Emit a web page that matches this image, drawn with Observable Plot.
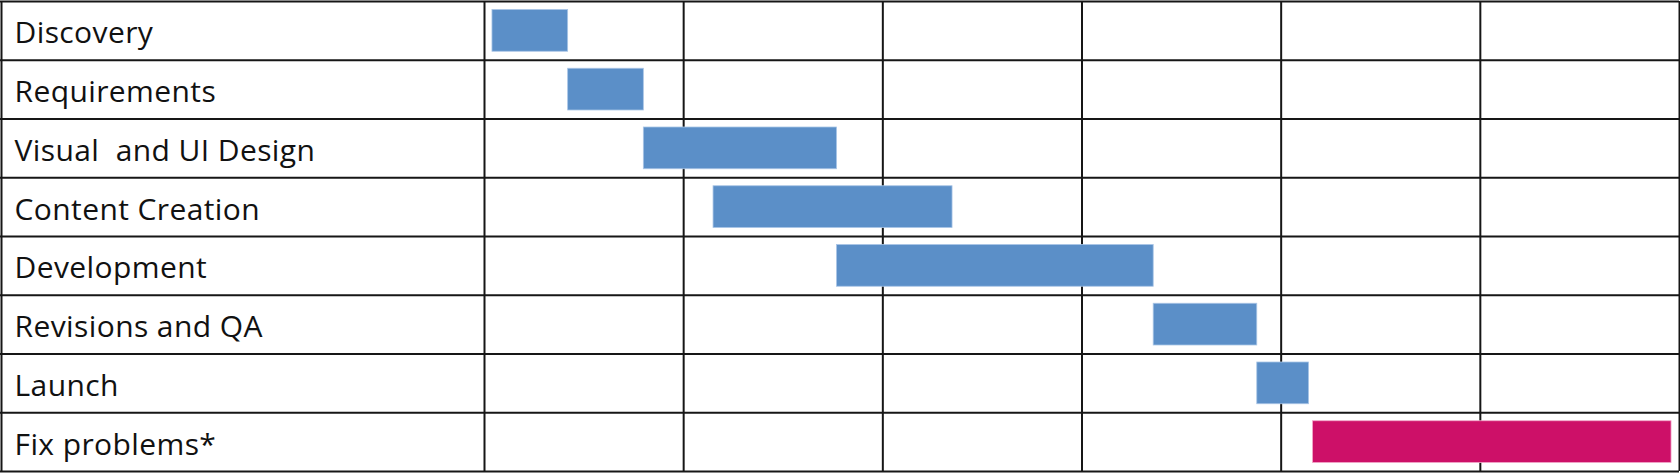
<!DOCTYPE html>
<html>
<head>
<meta charset="utf-8">
<script src="https://cdn.jsdelivr.net/npm/d3@7"></script>
<script src="https://cdn.jsdelivr.net/npm/@observablehq/plot@0.6"></script>
<style>
  html, body { margin: 0; padding: 0; background: #fff; }
  #chart svg text { white-space: pre; letter-spacing: 0.4px; }
</style>
</head>
<body>
<div id="chart"></div>
<script>
// Task names (top to bottom)
const tasks = [
  "Discovery",
  "Requirements",
  "Visual  and UI Design",
  "Content Creation",
  "Development",
  "Revisions and QA",
  "Launch",
  "Fix problems*"
];
// Start and end of each task, in timeline columns (periods)
const starts = [0.04, 0.42, 0.80, 1.15, 1.77, 3.36, 3.88, 4.16];
const ends   = [0.42, 0.80, 1.77, 2.35, 3.36, 3.88, 4.14, 5.96];
// Task kind: planned work vs. post-launch fixes
const kinds  = ["plan", "plan", "plan", "plan", "plan", "plan", "plan", "fix"];
// Timeline column boundaries
const periodTicks = [0, 1, 2, 3, 4, 5, 6];

const rows = tasks.map((t, i) => ({task: t, row: i, start: starts[i], end: ends[i], kind: kinds[i]}));
const rowEdges = d3.range(tasks.length + 1);

const W = 1680, H = 473;
const mLeft = 484;
const lineColor = "#161616";

const chart = Plot.plot({
  width: W,
  height: H,
  marginLeft: mLeft,
  marginRight: 1,
  marginTop: 1,
  marginBottom: 2,
  style: {fontFamily: "'Open Sans', sans-serif", background: "#fff"},
  x: {domain: [0, 6], axis: null},
  y: {domain: [0, tasks.length], range: [1, 471], axis: null},
  color: {domain: ["plan", "fix"], range: ["#5b8fc8", "#cd1068"]},
  marks: [
    Plot.ruleX(periodTicks, {stroke: lineColor, strokeWidth: 2}),
    Plot.ruleX([0], {stroke: lineColor, strokeWidth: 2, dx: -mLeft + 1}),
    Plot.ruleY(rowEdges, {stroke: lineColor, strokeWidth: 2, insetLeft: -mLeft}),
    Plot.rect(rows, {
      x1: "start", x2: "end",
      y1: "row", y2: d => d.row + 1,
      insetTop: 8.5, insetBottom: 8.5,
      fill: "kind",
      stroke: d => d.kind === "fix" ? "#f2a7c9" : "#a9c5e6",
      strokeWidth: 0.8
    }),
    Plot.text(rows, {
      x: () => 0,
      y: d => d.row + 0.5,
      text: "task",
      textAnchor: "start",
      dx: -mLeft + 14,
      dy: 3,
      fontSize: 30,
      fill: "#111"
    })
  ]
});

document.getElementById("chart").appendChild(chart);
</script>
</body>
</html>
